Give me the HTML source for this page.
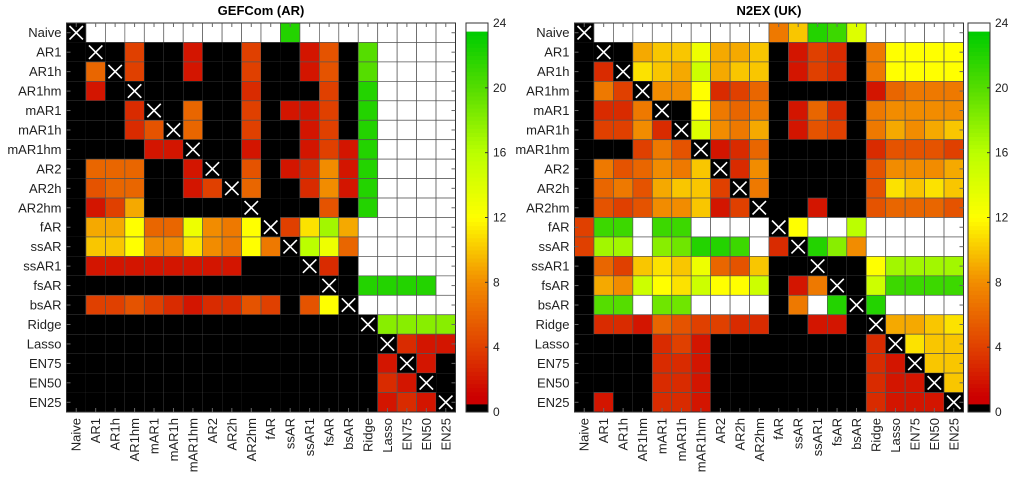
<!DOCTYPE html>
<html><head><meta charset="utf-8"><style>
body{margin:0;background:#fff;width:1024px;height:481px;overflow:hidden;font-family:"Liberation Sans",sans-serif}
</style></head><body>
<svg id="chart" width="1024" height="481" xmlns="http://www.w3.org/2000/svg"></svg>
<script>
const labels=["Naive","AR1","AR1h","AR1hm","mAR1","mAR1h","mAR1hm","AR2","AR2h","AR2hm","fAR","ssAR","ssAR1","fsAR","bsAR","Ridge","Lasso","EN75","EN50","EN25"];
const cbTicks=[0,4,8,12,16,20,24];
const W=24; // white = 24+
const gefcom=[
[-1,W,W,W,W,W,W,W,W,W,W,22,W,W,W,W,W,W,W,W],
[0,-1,0,4,0,0,2,0,0,4,0,0,2,5,0,20,W,W,W,W],
[0,6,-1,4,0,0,2,0,0,4,0,0,2,5,0,20,W,W,W,W],
[0,2,0,-1,0,0,0,0,0,3,0,0,0,4,0,22,W,W,W,W],
[0,0,0,3,-1,0,6,0,0,4,0,2,2,4,0,22,W,W,W,W],
[0,0,0,3,5,-1,6,0,0,4,0,0,2,4,0,22,W,W,W,W],
[0,0,0,0,2,2,-1,0,0,2,0,0,2,4,2,22,W,W,W,W],
[0,6,6,6,0,0,2,-1,0,5,0,2,3,8,2,22,W,W,W,W],
[0,5,6,6,0,0,2,4,-1,6,0,0,3,8,2,22,W,W,W,W],
[0,2,4,9,0,0,0,0,0,-1,0,0,0,5,0,22,W,W,W,W],
[0,9,9,12,6,6,13,8,7,12,-1,4,11,17,9,W,W,W,W,W],
[0,10,10,12,8,8,11,8,7,12,7,-1,16,13,6,W,W,W,W,W],
[0,2,2,2,2,2,2,2,2,0,0,0,-1,3,0,W,W,W,W,W],
[0,0,0,0,0,0,0,0,0,0,0,0,0,-1,0,22,22,22,22,W],
[0,4,4,5,4,3,2,3,3,5,4,0,5,12,-1,W,W,W,W,W],
[0,0,0,0,0,0,0,0,0,0,0,0,0,0,0,-1,18,18,18,18],
[0,0,0,0,0,0,0,0,0,0,0,0,0,0,0,0,-1,3,2,2],
[0,0,0,0,0,0,0,0,0,0,0,0,0,0,0,0,2,-1,2,0],
[0,0,0,0,0,0,0,0,0,0,0,0,0,0,0,0,3,2,-1,0],
[0,0,0,0,0,0,0,0,0,0,0,0,0,0,0,0,2,3,2,-1]];
const n2ex=[
[-1,W,W,W,W,W,W,W,W,W,7,10,22,21,14,W,W,W,W,W],
[0,-1,0,9,10,10,13,9,9,10,0,2,4,3,0,7,12,12,12,12],
[0,3,-1,11,10,9,15,9,10,10,0,2,4,3,0,7,12,12,12,12],
[0,7,4,-1,8,8,12,3,4,6,0,0,0,0,0,2,6,7,7,7],
[0,3,3,7,-1,0,12,7,6,7,0,2,6,3,0,7,8,8,8,8],
[0,4,4,8,3,-1,14,8,7,9,0,2,5,4,0,7,9,8,9,10],
[0,0,0,4,7,5,-1,2,3,6,0,0,0,0,0,3,5,5,5,4],
[0,7,5,6,8,7,10,-1,3,8,0,0,0,0,0,5,8,8,8,9],
[0,6,7,5,9,10,10,4,-1,7,0,0,0,0,0,5,11,10,11,10],
[0,5,4,5,8,8,10,2,4,-1,0,0,2,0,0,5,6,6,6,5],
[4,21,21,W,21,21,W,W,W,W,-1,12,W,W,16,W,W,W,W,W],
[4,17,17,W,18,19,22,22,21,W,3,-1,22,18,8,W,W,W,W,W],
[0,6,4,10,11,10,13,6,5,10,0,0,-1,0,0,12,17,17,17,17],
[0,9,8,15,12,11,15,12,12,15,0,2,7,-1,0,15,21,21,21,21],
[0,20,20,W,19,19,W,W,W,W,0,7,W,22,-1,22,W,W,W,W],
[0,3,3,2,6,5,4,4,3,3,0,0,2,2,0,-1,9,9,10,11],
[0,0,0,0,3,4,2,0,0,0,0,0,0,0,0,3,-1,11,10,10],
[0,0,0,0,3,3,2,0,0,0,0,0,0,0,0,3,2,-1,10,10],
[0,0,0,0,3,3,2,0,0,0,0,0,0,0,0,3,2,2,-1,10],
[0,2,0,0,3,3,2,0,0,0,0,0,0,0,0,3,2,2,2,-1]];
const stops=[[1,[204,0,0]],[4,[224,64,0]],[8,[242,140,0]],[12,[255,255,0]],[16,[187,255,0]],[20,[85,221,0]],[23.4,[0,204,0]]];
function color(v){
 if(v<=0.5)return "#000";
 if(v>=23.5)return "#fff";
 if(v<=1)return "rgb(204,0,0)";
 for(let i=0;i<stops.length-1;i++){const[a,ca]=stops[i],[b,cb]=stops[i+1];
  if(v<=b){const t=(v-a)/(b-a);return "rgb("+ca.map((c,k)=>Math.round(c+(cb[k]-c)*t)).join(",")+")";}}
 return "rgb(0,204,0)";
}
const NS="http://www.w3.org/2000/svg",svg=document.getElementById("chart");
function el(tag,attrs,parent){const e=document.createElementNS(NS,tag);for(const k in attrs)e.setAttribute(k,attrs[k]);(parent||svg).appendChild(e);return e;}
const top0=23,size=389,cell=size/20;
function drawPanel(data,x0,cbx,title,key){
 const g=el("g",{});
 
 
 const xs=i=>x0+i*cell, ys=j=>top0+j*cell;
 data.forEach((row,r)=>row.forEach((v,c)=>{
  if(v<0){
   const rc=el("rect",{x:xs(c),y:ys(r),width:cell,height:cell,fill:"#000"},g);
   
   
   el("path",{d:`M${xs(c)+3},${ys(r)+3}L${xs(c)+cell-3},${ys(r)+cell-3}M${xs(c)+cell-3},${ys(r)+3}L${xs(c)+3},${ys(r)+cell-3}`,stroke:"#fff","stroke-width":1.6},g);
  }else{
   const rc=el("rect",{x:xs(c),y:ys(r),width:cell,height:cell,fill:color(v),stroke:v>0.5?"#555":"none","stroke-width":0.7},g);
   
   
  }
 }));
 el("rect",{x:x0,y:top0,width:size,height:size,fill:"none",stroke:"#333","stroke-width":1},g);
 labels.forEach((l,i)=>{
  el("line",{x1:x0,x2:x0+4,y1:ys(i)+cell/2,y2:ys(i)+cell/2,stroke:"#666"},g);
  el("line",{x1:x0+size,x2:x0+size-4,y1:ys(i)+cell/2,y2:ys(i)+cell/2,stroke:"#666"},g);
  el("line",{x1:xs(i)+cell/2,x2:xs(i)+cell/2,y1:top0,y2:top0+4,stroke:"#666"},g);
  el("line",{x1:xs(i)+cell/2,x2:xs(i)+cell/2,y1:top0+size,y2:top0+size-4,stroke:"#666"},g);
  const t=el("text",{x:x0-5,y:ys(i)+cell/2+4.5,"text-anchor":"end","font-size":13,fill:"#222"},g);t.textContent=l;
  
  
  const tx=el("text",{x:0,y:0,"text-anchor":"end","font-size":13,fill:"#222",transform:`translate(${xs(i)+cell/2+4.5},${top0+size+6}) rotate(-90)`},g);tx.textContent=l;
  
  
 });
 const tt=el("text",{x:x0+size/2,y:15,"text-anchor":"middle","font-size":13,"font-weight":"bold",fill:"#000"},g);tt.textContent=title;
 
 
 const cb=el("g",{},g);
 
 
 const cw=22, N=96;
 for(let k=0;k<N;k++){const v=(k+0.5)*24/N;el("rect",{x:cbx,y:top0+size-(k+1)*size/N,width:cw,height:size/N+0.5,fill:color(v)},cb);}
 el("rect",{x:cbx,y:top0,width:cw,height:size,fill:"none",stroke:"#333"},cb);
 cbTicks.forEach(t=>{const y=top0+size-t/24*size;
  el("line",{x1:cbx+cw,x2:cbx+cw-3,y1:y,y2:y,stroke:"#333"},cb);
  const tl=el("text",{x:cbx+cw+5,y:y+4,"font-size":12,fill:"#222"},cb);tl.textContent=t;
  
  
 });
}
drawPanel(gefcom,66.5,466,"GEFCom (AR)","gefcom");
drawPanel(n2ex,574.5,968,"N2EX (UK)","n2ex");
</script>
</body></html>
